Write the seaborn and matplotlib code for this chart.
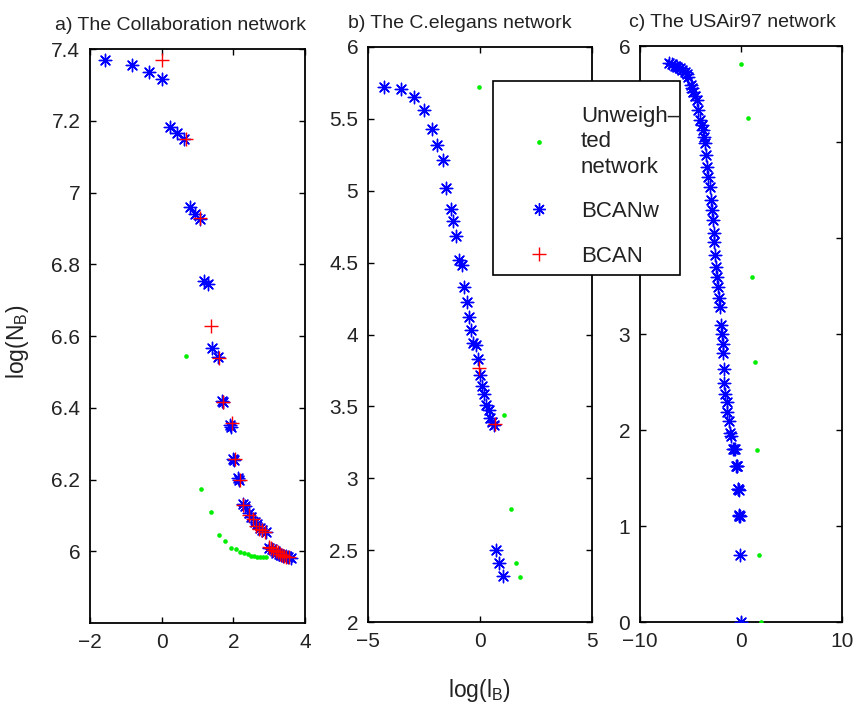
import numpy as np
import matplotlib
matplotlib.use('Agg')
import matplotlib.pyplot as plt
import seaborn as sns
from matplotlib.ticker import FuncFormatter
from matplotlib.lines import Line2D
from matplotlib.patches import Rectangle

# === Data ===
# a) Collaboration network
collab_unw_x = [0.67, 1.09, 1.37, 1.59, 1.78, 1.93, 2.07, 2.19, 2.30, 2.40, 2.49, 2.58, 2.66, 2.74, 2.82, 2.90]
collab_unw_y = [6.543, 6.173, 6.109, 6.045, 6.029, 6.009, 6.005, 5.999, 5.994, 5.992, 5.987, 5.986, 5.985, 5.985, 5.985, 5.985]
collab_bcanw_x = [-1.57, -0.82, -0.36, 0.0, 0.24, 0.43, 0.62, 0.79, 0.93, 1.07, 1.18, 1.28, 1.41, 1.57,
                  1.68, 1.72, 1.90, 1.94, 1.99, 2.03, 2.13, 2.17, 2.27, 2.33, 2.43, 2.50, 2.60, 2.66,
                  2.74, 2.80, 2.92, 3.00, 3.08, 3.15, 3.20, 3.27, 3.33, 3.40, 3.47, 3.53, 3.60]
collab_bcanw_y = [7.370, 7.356, 7.337, 7.316, 7.183, 7.167, 7.149, 6.959, 6.941, 6.925, 6.754, 6.744, 6.567, 6.541,
                  6.420, 6.415, 6.351, 6.345, 6.258, 6.255, 6.203, 6.198, 6.131, 6.125, 6.106, 6.096, 6.082, 6.075,
                  6.066, 6.060, 6.055, 6.010, 6.006, 6.002, 5.995, 5.993, 5.990, 5.988, 5.986, 5.984, 5.982]
collab_bcan_x = [0.0, 0.67, 1.07, 1.39, 1.59, 1.70, 1.95, 2.05, 2.19, 2.28, 2.45, 2.55, 2.63, 2.72, 2.80,
                 2.88, 3.00, 3.06, 3.12, 3.18, 3.24, 3.30, 3.36, 3.42, 3.48, 3.55]
collab_bcan_y = [7.370, 7.150, 6.928, 6.629, 6.540, 6.415, 6.357, 6.258, 6.198, 6.129, 6.100, 6.090, 6.070, 6.062, 6.060,
                 6.055, 6.012, 6.008, 6.003, 6.000, 5.997, 5.993, 5.990, 5.988, 5.985, 5.983]

# b) C.elegans network
eleg_unw_x = [-0.03, 1.09, 1.37, 1.59, 1.79]
eleg_unw_y = [5.72, 3.44, 2.783, 2.41, 2.315]
eleg_bcanw_x = [-4.29, -3.53, -2.93, -2.49, -2.14, -1.92, -1.67, -1.52, -1.31, -1.19, -1.07, -0.92, -0.82,
                -0.70, -0.60, -0.48, -0.39, -0.30, -0.18, -0.09, 0.0, 0.09, 0.19, 0.28, 0.39, 0.46, 0.52,
                0.61, 0.71, 0.86, 1.04]
eleg_bcanw_y = [5.72, 5.71, 5.655, 5.56, 5.43, 5.32, 5.215, 5.016, 4.875, 4.79, 4.683, 4.516, 4.484,
                4.33, 4.224, 4.12, 4.028, 3.942, 3.924, 3.831, 3.72, 3.641, 3.583, 3.507, 3.477, 3.419, 3.391,
                3.368, 2.50, 2.41, 2.317]
eleg_bcan_x = [-0.03, 0.67]
eleg_bcan_y = [3.769, 3.375]

# c) USAir97 network
air_unw_x = [-0.03, 0.66, 1.06, 1.39, 1.62, 1.78, 1.95]
air_unw_y = [5.81, 5.25, 3.59, 2.71, 1.79, 0.695, 0.0]
air_bcanw_x = [-7.13, -6.80, -6.53, -6.30, -6.04, -5.80, -5.54, -5.35, -5.21, -4.98, -4.85, -4.72, -4.55,
               -4.39, -4.22, -4.06, -3.90, -3.79, -3.65, -3.56, -3.47, -3.40, -3.23, -3.07, -2.97, -2.84,
               -2.74, -2.67, -2.64, -2.57, -2.48, -2.41, -2.31, -2.15, -2.08, -2.01, -1.91, -1.81, -1.75,
               -1.68, -1.65, -1.58, -1.42, -1.36, -1.16, -1.09, -1.00, -0.82, -0.70, -0.59, -0.50, -0.43,
               -0.35, -0.30, -0.26, -0.20, -0.20, -0.16, -0.10, -0.10, -0.03]
air_bcanw_y = [5.82, 5.81, 5.79, 5.78, 5.77, 5.75, 5.73, 5.71, 5.68, 5.59, 5.56, 5.52, 5.48,
               5.44, 5.33, 5.23, 5.18, 5.125, 5.05, 4.99, 4.86, 4.74, 4.64, 4.53, 4.40, 4.29,
               4.19, 4.05, 3.96, 3.82, 3.70, 3.59, 3.49, 3.38, 3.28, 3.09, 3.00, 2.90, 2.80,
               2.64, 2.49, 2.38, 2.29, 2.19, 2.09, 1.97, 1.94, 1.80, 1.80, 1.80, 1.62, 1.62,
               1.62, 1.39, 1.39, 1.38, 1.11, 1.107, 1.10, 0.698, 0.003]

panels = [
    dict(title='a) The Collaboration network', unw=(collab_unw_x, collab_unw_y),
         bcanw=(collab_bcanw_x, collab_bcanw_y), bcan=(collab_bcan_x, collab_bcan_y),
         xlim=(-2, 4), ylim=(5.8, 7.4), xticks=[-2, 0, 2, 4], yticks=np.arange(6, 7.41, 0.2),
         rect=[90 / 862, 83 / 706, 215 / 862, 574 / 706], tx=0.423, hide=[]),
    dict(title='b) The C.elegans network', unw=(eleg_unw_x, eleg_unw_y),
         bcanw=(eleg_bcanw_x, eleg_bcanw_y), bcan=(eleg_bcan_x, eleg_bcan_y),
         xlim=(-5, 5), ylim=(2, 6), xticks=[-5, 0, 5], yticks=np.arange(2, 6.01, 0.5),
         rect=[368 / 862, 84 / 706, 224 / 862, 575 / 706], tx=0.41, hide=[]),
    dict(title='c) The USAir97 network', unw=(air_unw_x, air_unw_y),
         bcanw=(air_bcanw_x, air_bcanw_y), bcan=None,
         xlim=(-10, 10), ylim=(0, 6), xticks=[-10, 0, 10], yticks=np.arange(0, 6.01, 1),
         rect=[640 / 862, 84 / 706, 202 / 862, 576 / 706], tx=0.46, hide=[4, 5]),
]

# === Style ===
sns.set_style('ticks')
plt.rcParams['font.family'] = ['Liberation Sans', 'DejaVu Sans']
plt.rcParams['font.size'] = 14
plt.rcParams['mathtext.fontset'] = 'custom'
plt.rcParams['mathtext.rm'] = 'Liberation Sans'
plt.rcParams['text.color'] = '#222222'

STAR = (8, 2, 0)
GREEN = '#00ee00'

fig = plt.figure(figsize=(8.62, 7.06), dpi=100)
fig.patch.set_facecolor('white')


def tick_fmt(hide):
    # tick labels 4 and 5 of panel c sit under the legend box
    return FuncFormatter(lambda v, _: '' if round(v, 3) in hide else f'{v:g}')


for p in panels:
    ax = fig.add_axes(p['rect'])
    ax.set_facecolor('white')
    sns.scatterplot(x=p['unw'][0], y=p['unw'][1], ax=ax, marker='o', color=GREEN,
                    s=11, linewidth=0, zorder=3)
    sns.scatterplot(x=p['bcanw'][0], y=p['bcanw'][1], ax=ax, marker=STAR, color='blue',
                    s=80, linewidth=1.0, zorder=4)
    if p['bcan'] is not None:
        sns.scatterplot(x=p['bcan'][0], y=p['bcan'][1], ax=ax, marker='+', color='red',
                        s=90, linewidth=1.0, zorder=5)
    ax.set_xlim(*p['xlim'])
    ax.set_ylim(*p['ylim'])
    ax.set_xticks(p['xticks'])
    ax.set_yticks(p['yticks'])
    ax.yaxis.set_major_formatter(tick_fmt(p['hide']))
    ax.tick_params(direction='in', top=True, right=True, length=4, width=1,
                   color='black', labelcolor='#222222', labelsize=15, pad=7)
    for s in ax.spines.values():
        s.set_visible(True)
        s.set_linewidth(1.3)
        s.set_color('black')
    ax.set_xlabel('')
    ax.set_ylabel('')
    ax.set_title(p['title'], fontsize=14, pad=14, x=p['tx'])

# labels shared by the figure
fig.text(18 / 862, 1 - 342 / 706, r'log(N$_\mathregular{B}$)', rotation=90,
         ha='center', va='center', fontsize=16.5)
fig.text(479 / 862, 1 - 690 / 706, r'log(l$_\mathregular{B}$)', ha='center', va='center', fontsize=16.5)

# legend box (MATLAB style: extra room above the first entry)
box = Rectangle((493 / 862, 1 - 275 / 706), 187 / 862, 194 / 706, transform=fig.transFigure,
                facecolor='white', edgecolor='black', linewidth=1.2, zorder=15)
fig.add_artist(box)

handles = [
    Line2D([], [], ls='none', marker='o', color=GREEN, markersize=3.4, markeredgewidth=0),
    Line2D([], [], ls='none', marker=STAR, color='blue', markersize=9, markeredgewidth=1.0),
    Line2D([], [], ls='none', marker='+', color='red', markersize=9.5, markeredgewidth=1.0),
]
labels = ['Unweigh\u2013\nted\nnetwork', 'BCANw', 'BCAN']
leg = fig.legend(handles, labels, loc='upper left', bbox_to_anchor=(493 / 862, 1 - 97 / 706),
                 bbox_transform=fig.transFigure, borderaxespad=0, fontsize=16,
                 handlelength=3.34, handletextpad=0.22, borderpad=0.4, labelspacing=1.05,
                 frameon=False)
for t in leg.get_texts():
    t.set_linespacing(1.28)
leg.set_zorder(20)

fig.savefig('out.png', dpi=100, facecolor='white')
